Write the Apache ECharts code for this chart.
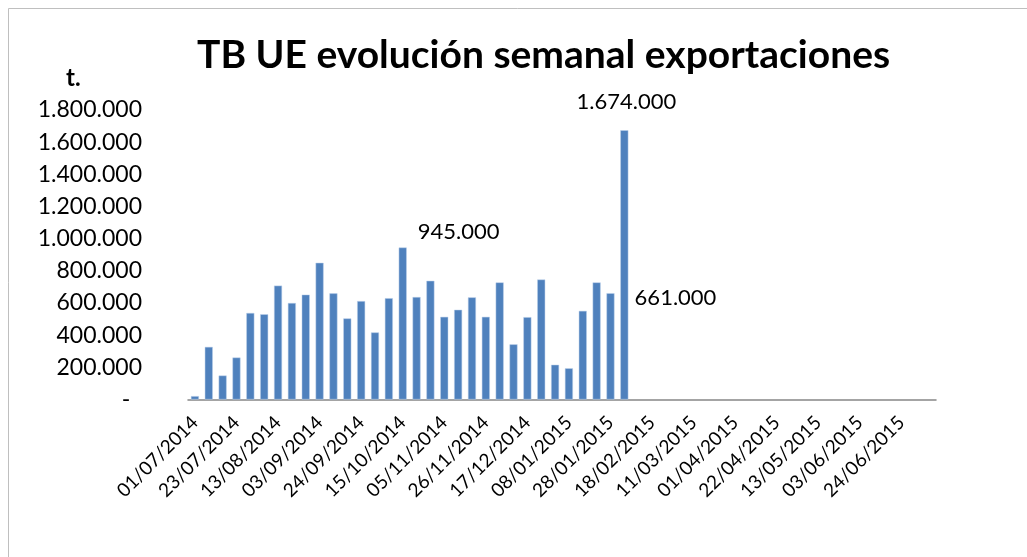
<!DOCTYPE html>
<html>
<head>
<meta charset="utf-8">
<script src="https://cdn.jsdelivr.net/npm/echarts@6/dist/echarts.min.js"></script>
<style>
  html, body { margin: 0; padding: 0; background: #fff; }
  #chart { width: 1027px; height: 557px; }
</style>
</head>
<body>
<div id="chart"></div>
<script>
// semanas (cada 3 se muestra etiqueta)
const weeks = [
  '01/07/2014', '09/07/2014', '16/07/2014', '23/07/2014', '30/07/2014', '06/08/2014',
  '13/08/2014', '20/08/2014', '27/08/2014', '03/09/2014', '10/09/2014', '17/09/2014',
  '24/09/2014', '01/10/2014', '08/10/2014', '15/10/2014', '22/10/2014', '29/10/2014',
  '05/11/2014', '12/11/2014', '19/11/2014', '26/11/2014', '03/12/2014', '10/12/2014',
  '17/12/2014', '24/12/2014', '31/12/2014', '08/01/2015', '14/01/2015', '21/01/2015',
  '28/01/2015', '04/02/2015', '11/02/2015', '18/02/2015', '25/02/2015', '04/03/2015',
  '11/03/2015', '18/03/2015', '25/03/2015', '01/04/2015', '08/04/2015', '15/04/2015',
  '22/04/2015', '29/04/2015', '06/05/2015', '13/05/2015', '20/05/2015', '27/05/2015',
  '03/06/2015', '10/06/2015', '17/06/2015', '24/06/2015', '01/07/2015', '08/07/2015'
];

// exportaciones semanales (t.)
const exports = [
  21000, 327000, 149000, 261000, 538000, 530000, 708000, 600000, 652000, 850000,
  660000, 504000, 612000, 417000, 630000, 945000, 637000, 738000, 514000, 558000,
  635000, 514000, 728000, 343000, 512000, 746000, 216000, 194000, 551000, 728000,
  661000, 1674000
];

// etiquetas de datos destacadas: indice -> desplazamiento
const labelled = { 15: [56, 0], 30: [65, 21], 31: [2, -12] };

const fmt = v => v === 0 ? '-  ' : String(v).replace(/\B(?=(\d{3})+(?!\d))/g, '.');

const FONT = 'Lato';

const chart = echarts.init(document.getElementById('chart'));

const seriesData = weeks.map((w, i) => {
  if (i >= exports.length) return null;
  const item = { value: exports[i] };
  if (labelled[i]) {
    item.label = {
      show: true,
      position: 'top',
      offset: labelled[i],
      formatter: p => fmt(p.value),
      fontFamily: FONT,
      fontSize: 22,
      color: '#000'
    };
  }
  return item;
});

const option = {
  animation: false,
  title: {
    text: 'TB UE evolución semanal exportaciones',
    left: 192,
    top: 31,
    textStyle: { fontFamily: FONT, fontWeight: 'bold', fontSize: 39, color: '#000' }
  },
  graphic: [
    {
      type: 'text',
      left: 66,
      top: 66,
      style: { text: 't.', font: 'bold 24px Lato', fill: '#000' }
    },
    {
      type: 'polyline',
      shape: { points: [[8.5, 557], [8.5, 8.5], [1027, 8.5]] },
      style: { stroke: '#bfbfbf', lineWidth: 1, fill: null }
    }
  ],
  grid: { left: 188, right: 91, top: 110, bottom: 157.5 },
  xAxis: {
    type: 'category',
    data: weeks,
    axisLine: { lineStyle: { color: '#868686', width: 1.5 } },
    axisTick: { show: false },
    axisLabel: {
      interval: 2,
      rotate: 45,
      margin: 20,
      fontFamily: FONT,
      fontSize: 19,
      color: '#000'
    }
  },
  yAxis: {
    type: 'value',
    min: 0,
    max: 1800000,
    interval: 200000,
    axisLine: { show: false },
    axisTick: { show: false },
    splitLine: { show: false },
    axisLabel: {
      margin: 46,
      formatter: fmt,
      fontFamily: FONT,
      fontSize: 23,
      color: '#000'
    }
  },
  series: [
    {
      type: 'bar',
      data: seriesData,
      barWidth: 8,
      itemStyle: { color: '#4f81bd', borderColor: '#bcd0ea', borderWidth: 0.5 }
    }
  ]
};

chart.setOption(option);
</script>
</body>
</html>
